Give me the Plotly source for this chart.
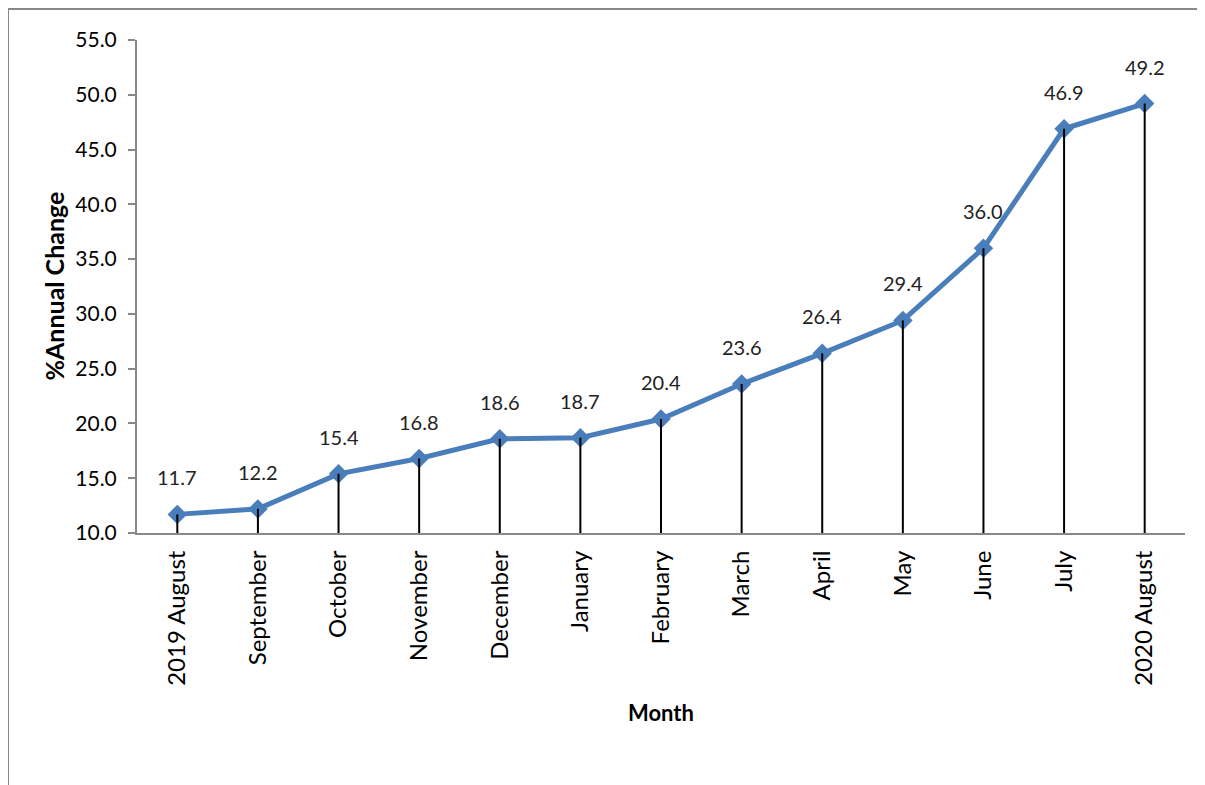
import plotly.graph_objects as go

months = ["2019 August", "September", "October", "November", "December", "January",
          "February", "March", "April", "May", "June", "July", "2020 August"]
values = [11.7, 12.2, 15.4, 16.8, 18.6, 18.7, 20.4, 23.6, 26.4, 29.4, 36.0, 46.9, 49.2]
y_ticks = [10, 15, 20, 25, 30, 35, 40, 45, 50, 55]
y_base = 10

FONT = "Lato"
LINE_BLUE = "#4A7EBB"

drop_x, drop_y = [], []
for m, v in zip(months, values):
    drop_x += [m, m, None]
    drop_y += [y_base, v, None]

fig = go.Figure()
fig.add_trace(go.Scatter(
    x=months, y=values, mode="lines+markers",
    line=dict(color=LINE_BLUE, width=5),
    marker=dict(symbol="diamond", size=15, color=LINE_BLUE),
    showlegend=False, hoverinfo="skip"))
fig.add_trace(go.Scatter(
    x=drop_x, y=drop_y, mode="lines",
    line=dict(color="black", width=2),
    showlegend=False, hoverinfo="skip"))

L, R, T, B = 129, 28, 32, 260
W, H = 1205, 785
pw, ph = W - L - R, H - T - B

annotations = []
for m, v in zip(months, values):
    annotations.append(dict(x=m, y=v, text=f"{v:.1f}", showarrow=False,
                            yshift=37, font=dict(family=FONT, size=20, color="#222")))
annotations.append(dict(xref="paper", yref="paper", x=(45 - L) / pw, y=0.5,
                        xanchor="center", yanchor="middle", text="<b>%Annual Change</b>",
                        textangle=-90, showarrow=False, font=dict(family=FONT, size=25, color="black")))
annotations.append(dict(xref="paper", yref="paper", x=0.5, y=(H - B - 704) / ph,
                        xanchor="center", yanchor="middle", text="<b>Month</b>",
                        showarrow=False, font=dict(family=FONT, size=22, color="black")))

fig.update_layout(
    width=W, height=H,
    margin=dict(l=L, r=R, t=T, b=B, pad=0),
    paper_bgcolor="white", plot_bgcolor="white",
    annotations=annotations,
    font=dict(family=FONT, color="black"),
    xaxis=dict(type="category", range=[-0.5, len(months) - 0.5], showgrid=False,
               showline=True, linecolor="#888", linewidth=2, ticks="",
               tickangle=-90, tickfont=dict(family=FONT, size=24, color="black"),
               ticklabelstandoff=6, zeroline=False),
    yaxis=dict(range=[10, 55], tickvals=y_ticks, ticktext=[f"{t:.1f}" for t in y_ticks],
               showgrid=False, showline=True, linecolor="#888", linewidth=2,
               ticks="outside", ticklen=7, tickcolor="#888", tickwidth=2,
               ticklabelstandoff=7,
               tickfont=dict(family=FONT, size=21, color="black"), zeroline=False),
    shapes=[dict(type="rect", xref="paper", yref="paper",
                 x0=(0 - L) / pw, x1=(W + 40 - L) / pw,
                 y0=(H - B - (H + 40)) / ph, y1=(H - B - 1) / ph,
                 line=dict(color="#888", width=2), fillcolor="rgba(0,0,0,0)", layer="below")],
)

fig.write_html("out.html")
